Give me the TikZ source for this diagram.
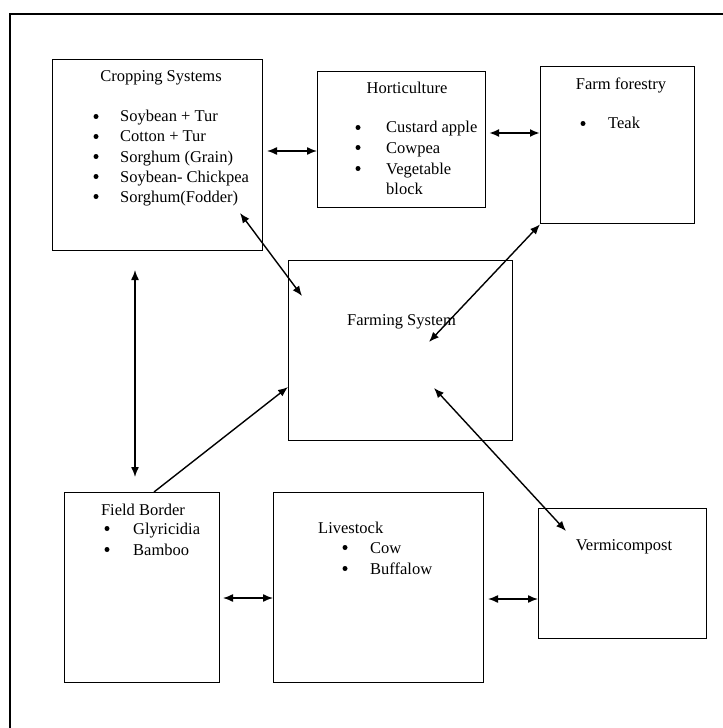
\documentclass[tikz,border=0pt]{standalone}
\usepackage{fontspec}
\setmainfont{Liberation Serif}
\usetikzlibrary{arrows.meta}
\begin{document}
\begin{tikzpicture}[x=1bp,y=-1bp,
  box/.style={draw, line width=1.4bp, inner sep=0pt, anchor=north west},
  itm/.style={anchor=base west, inner sep=0pt, font=\fontsize{16.5bp}{20bp}\selectfont},
  ttl/.style={anchor=base, inner sep=0pt, font=\fontsize{16.5bp}{20bp}\selectfont},
  bul/.style={circle, fill, inner sep=0pt, minimum size=5bp, yshift=5.5bp},
  conn/.style={line width=1.4bp, {Latex[length=10bp,width=8bp]}-{Latex[length=10bp,width=8bp]}},
  oneway/.style={line width=1.4bp, -{Latex[length=10bp,width=8bp]}},
  frame/.style={line width=1.5bp}]
\useasboundingbox (0,0) rectangle (723,728);
% outer frame (partly visible)
\coordinate (fr1) at (10,728);
\coordinate (fr2) at (10,14);
\coordinate (fr3) at (723,14);
\draw[frame] (fr1) -- (fr2) -- (fr3);
% boxes
\node[box, minimum width=210bp, minimum height=191bp] (crop) at (52,59) {};
\node[box, minimum width=168bp, minimum height=136bp] (hort) at (317,71) {};
\node[box, minimum width=154bp, minimum height=157bp] (forest) at (540,66) {};
\node[box, minimum width=224bp, minimum height=180bp] (farm) at (288,260) {};
\node[box, minimum width=155bp, minimum height=190bp] (field) at (64,492) {};
\node[box, minimum width=210bp, minimum height=190bp] (live) at (273,492) {};
\node[box, minimum width=168bp, minimum height=130bp] (vermi) at (538,508) {};
% Cropping systems
\node[ttl] (cropT) at (161,82) {Cropping Systems};
\node[bul] (cb1) at (96,122) {}; \node[itm] (ct1) at (120,122) {Soybean + Tur};
\node[bul] (cb2) at (96,142) {}; \node[itm] (ct2) at (120,142) {Cotton + Tur};
\node[bul] (cb3) at (96,162) {}; \node[itm] (ct3) at (120,162) {Sorghum (Grain)};
\node[bul] (cb4) at (96,182) {}; \node[itm] (ct4) at (120,182) {Soybean- Chickpea};
\node[bul] (cb5) at (96,202) {}; \node[itm] (ct5) at (120,202) {Sorghum(Fodder)};
% Horticulture
\node[ttl] (hortT) at (407,94) {Horticulture};
\node[bul] (hb1) at (358,133) {}; \node[itm] (ht1) at (386,133) {Custard apple};
\node[bul] (hb2) at (358,153) {}; \node[itm] (ht2) at (386,153) {Cowpea};
\node[bul] (hb3) at (358,174) {}; \node[itm] (ht3) at (386,174) {Vegetable};
\node[itm] (ht4) at (386,194) {block};
% Farm forestry
\node[ttl] (forestT) at (621,90) {Farm forestry};
\node[bul] (fb1) at (583,129) {}; \node[itm] (ft1) at (608,129) {Teak};
% Farming system
\node[itm] (farmT) at (347,325) {Farming System};
% Field border
\node[ttl] (fieldT) at (143,515) {Field Border};
\node[bul] (db1) at (107,534) {}; \node[itm] (dt1) at (133,534) {Glyricidia};
\node[bul] (db2) at (107,555) {}; \node[itm] (dt2) at (133,555) {Bamboo};
% Livestock
\node[itm] (liveT) at (318,533) {Livestock};
\node[bul] (lb1) at (345,553) {}; \node[itm] (lt1) at (370,553) {Cow};
\node[bul] (lb2) at (345,574) {}; \node[itm] (lt2) at (370,574) {Buffalow};
% Vermicompost
\node[ttl] (vermiT) at (624,550) {Vermicompost};
% connector end points
\coordinate (ch1) at (267,151); \coordinate (ch2) at (317,151);
\coordinate (hf1) at (489,133); \coordinate (hf2) at (540,133);
\coordinate (cf1) at (240,213); \coordinate (cf2) at (302,296);
\coordinate (ff1) at (forest.south west); \coordinate (ff2) at (429,342);
\coordinate (cd1) at (135,270); \coordinate (cd2) at (135,477);
\coordinate (df1) at (154,492); \coordinate (df2) at (288,387);
\coordinate (fv1) at (434,388); \coordinate (fv2) at (566,531);
\coordinate (dl1) at (223,598); \coordinate (dl2) at (273,598);
\coordinate (lv1) at (488,599); \coordinate (lv2) at (538,599);
% connectors
\draw[conn] (ch1) -- (ch2);
\draw[conn, line width=2.4bp] (hf1) -- (hf2);
\draw[conn] (cf1) -- (cf2);
\draw[conn] (ff1) -- (ff2);
\draw[conn] (cd1) -- (cd2);
\draw[oneway] (df1) -- (df2);
\draw[conn] (fv1) -- (fv2);
\draw[conn] (dl1) -- (dl2);
\draw[conn] (lv1) -- (lv2);
\end{tikzpicture}
\end{document}
